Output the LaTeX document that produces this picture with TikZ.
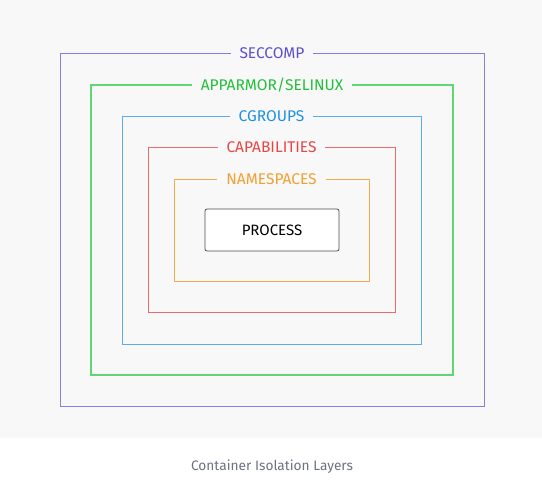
\documentclass[tikz,border=0pt]{standalone}
\usepackage{fontspec}
\setmainfont{Fira Sans}
\definecolor{bgcol}{HTML}{F8F8F8}
\definecolor{seccol}{HTML}{5B4FD0}
\definecolor{secline}{HTML}{8A7FD8}
\definecolor{appcol}{HTML}{22C03A}
\definecolor{appline}{HTML}{62D672}
\definecolor{cgcol}{HTML}{1E90E0}
\definecolor{cgline}{HTML}{5AAEE8}
\definecolor{capcol}{HTML}{E84545}
\definecolor{capline}{HTML}{EC6A6A}
\definecolor{nscol}{HTML}{F0A030}
\definecolor{nsline}{HTML}{F0AC48}
\definecolor{captioncol}{HTML}{6B7280}
\tikzset{
    layerline/.style={draw=#1, line width=1pt},
    layerlabel/.style={fill=bgcol, text=#1, inner xsep=9pt, inner ysep=2pt, font=\fontsize{15.5}{18}\selectfont},
    procbox/.style={draw=black!70, fill=white, line width=0.8pt, rounded corners=2pt, minimum width=134pt, minimum height=42pt, font=\fontsize{15}{18}\selectfont}
}
\begin{document}
\begin{tikzpicture}[x=1pt, y=-1pt]
    % canvas and grey panel
    \useasboundingbox (0,0) rectangle (542,493);
    \fill[bgcol] (0,0) rectangle (542,438);

    % nested isolation layers, outermost first
    \draw[layerline=secline] (60,53) rectangle (484,406);
    \draw[layerline=appline, line width=1.3pt] (91,85) rectangle (453,375);
    \draw[layerline=cgline] (122,116) rectangle (421,344);
    \draw[layerline=capline] (148,147) rectangle (395,312);
    \draw[layerline=nsline] (174,179) rectangle (369,281);

    % labels sitting on the top edges
    \node[layerlabel=seccol] (seccomp) at (272,53) {SECCOMP};
    \node[layerlabel=appcol] (apparmor) at (272,85) {APPARMOR/SELINUX};
    \node[layerlabel=cgcol] (cgroups) at (271.5,116) {CGROUPS};
    \node[layerlabel=capcol] (caps) at (271.5,147) {CAPABILITIES};
    \node[layerlabel=nscol] (ns) at (271.5,179) {NAMESPACES};

    % the process in the middle
    \node[procbox] (process) at (272,230) {PROCESS};

    % caption
    \node[text=captioncol, font=\fontsize{13.7}{16}\selectfont] (caption) at (272,467) {Container Isolation Layers};
\end{tikzpicture}
\end{document}
